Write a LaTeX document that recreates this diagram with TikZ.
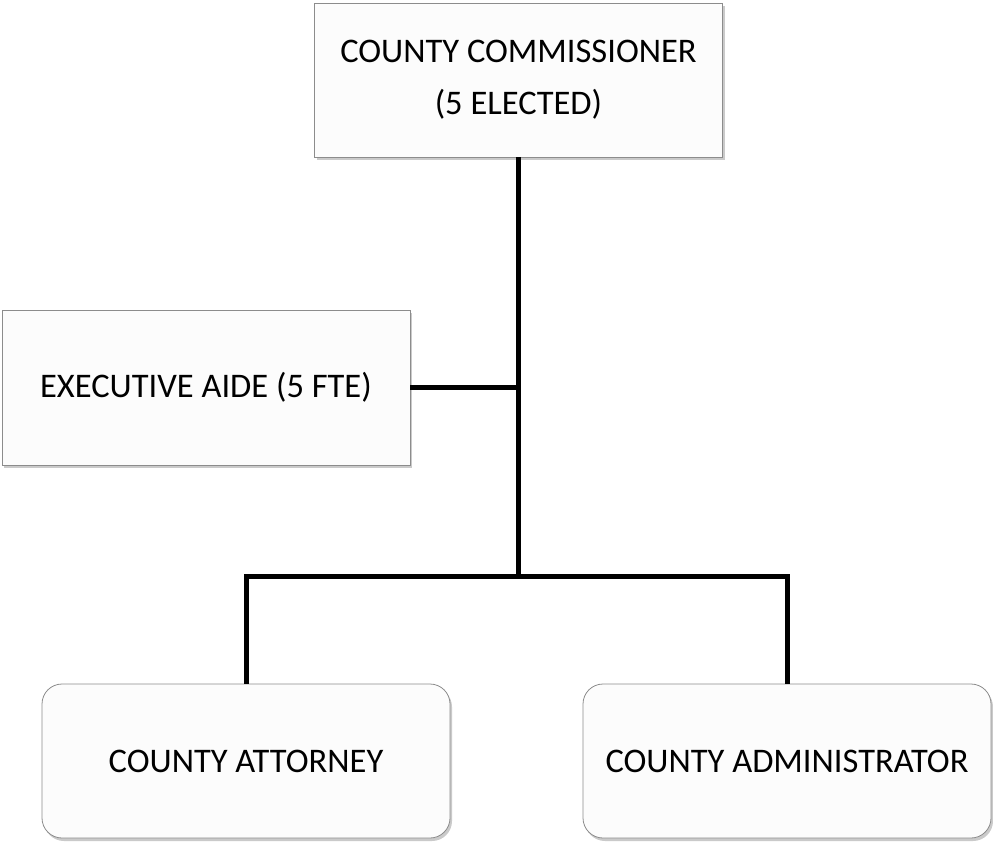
\documentclass[tikz,border=0pt]{standalone}
\usepackage{fontspec}
\setmainfont{Carlito}
\usetikzlibrary{shadows}
\begin{document}
\begin{tikzpicture}[x=1pt,y=-1pt,
  box/.style={draw=black!45, line width=0.8pt, fill=black!1, inner sep=0pt,
    font=\fontsize{34.5}{52}\selectfont, align=center,
    minimum width=408pt, minimum height=154pt,
    drop shadow={shadow xshift=2pt, shadow yshift=-3pt, fill=black!35, opacity=0.6}},
  rbox/.style={box, rounded corners=20pt},
  conn/.style={line width=5pt}]
\useasboundingbox (0,0) rectangle (993,841);
\node[box] (top) at (518.5,80) {COUNTY COMMISSIONER\\(5 ELECTED)};
\node[box, minimum height=155pt] (exec) at (206,387.5) {EXECUTIVE AIDE (5 FTE)};
\node[rbox] (att) at (246,761) {COUNTY ATTORNEY};
\node[rbox] (adm) at (787,761) {COUNTY ADMINISTRATOR};
\coordinate (j) at (518,576);
\draw[conn] (top.south -| j) -- (j);
\draw[conn] (exec.east) -- (exec.east -| j);
\draw[conn, line join=miter] (att.north) |- (j) -| (adm.north);
\end{tikzpicture}
\end{document}
